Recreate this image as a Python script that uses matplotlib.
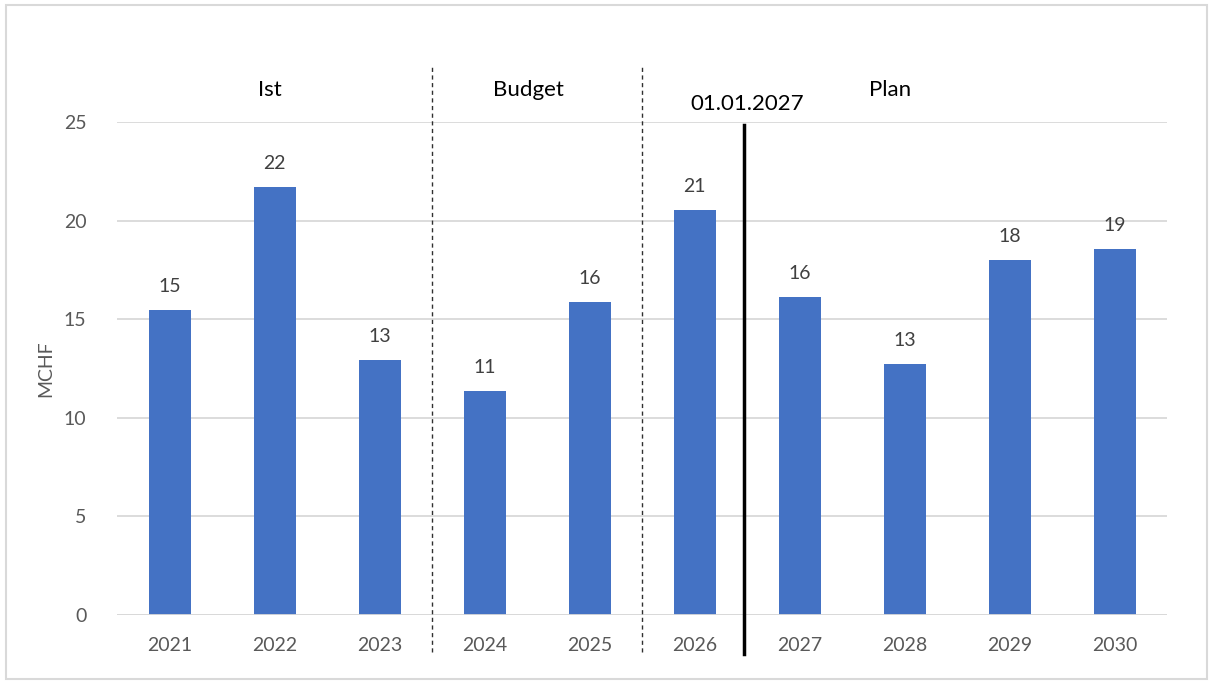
import matplotlib.pyplot as plt
from matplotlib.patches import Rectangle

years  = ["2021", "2022", "2023", "2024", "2025", "2026", "2027", "2028", "2029", "2030"]
values = [15.47, 21.7, 12.93, 11.36, 15.87, 20.54, 16.13, 12.73, 18.0, 18.56]
labels = ["15", "22", "13", "11", "16", "21", "16", "13", "18", "19"]
sections = ["Ist", "Budget", "Plan"]
section_pos = [0.96, 3.42, 6.86]
cutoff_label = "01.01.2027"

plt.rcParams["font.family"] = ["Lato", "DejaVu Sans"]

fig = plt.figure(figsize=(12.14, 6.84), dpi=100)
ax = fig.add_axes([0.0964, 0.1009, 0.8649, 0.7207])

x = list(range(len(years)))
ax.bar(x, values, width=0.4, color="#4472C4", zorder=3)
for xi, v, l in zip(x, values, labels):
    ax.text(xi, v + 0.75, l, ha="center", va="bottom", fontsize=14, color="#404040")

ax.set_xlim(-0.5, len(years) - 0.5)
ax.set_ylim(0, 25)
ax.set_yticks([0, 5, 10, 15, 20, 25])
ax.set_xticks(x)
ax.set_xticklabels(years)
ax.tick_params(length=0, labelsize=14, colors="#595959")
ax.tick_params(axis="x", pad=16)
ax.tick_params(axis="y", pad=22)
ax.grid(axis="y", color="#D9D9D9", linewidth=1.3, zorder=0)
for s in ax.spines.values():
    s.set_visible(False)
ax.axhline(0, color="#D9D9D9", linewidth=1.3, zorder=4)
ax.set_ylabel("MCHF", fontsize=14, color="#595959", labelpad=7)

# section separators
for xs in [2.5, 4.5]:
    ax.plot([xs, xs], [-1.9, 27.9], ls=(0, (3, 2.5)), color="#303030", lw=1, clip_on=False, zorder=5)
ax.plot([5.47, 5.47], [-2.0, 24.85], color="black", lw=2.5, clip_on=False, zorder=5)

for name, px in zip(sections, section_pos):
    ax.text(px, 26.6, name, ha="center", va="center", fontsize=16, color="black")
ax.text(5.5, 25.9, cutoff_label, ha="center", va="center", fontsize=16, color="black")

fig.patches.append(Rectangle((0.005, 0.008), 0.989, 0.984, transform=fig.transFigure,
                             fill=False, edgecolor="#D9D9D9", lw=1.5))

fig.savefig("out.png", dpi=100)
